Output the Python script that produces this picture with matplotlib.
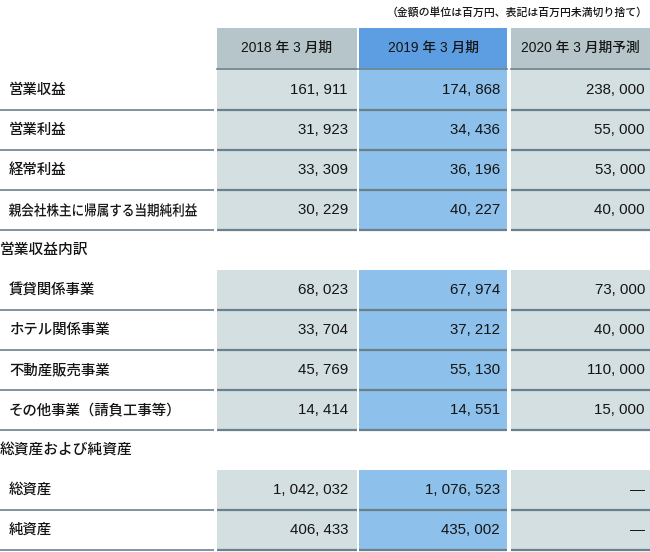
import matplotlib
matplotlib.use("Agg")
import matplotlib.pyplot as plt
from matplotlib.patches import Rectangle, PathPatch
from matplotlib.textpath import TextPath
from matplotlib.font_manager import FontProperties
from matplotlib.transforms import Affine2D

# ---------------- data ----------------
note = "（金額の単位は百万円、表記は百万円未満切り捨て）"
periods = ["2018 年 3 月期", "2019 年 3 月期", "2020 年 3 月期予測"]

main_labels = ["営業収益", "営業利益", "経常利益", "親会社株主に帰属する当期純利益"]
main_2018 = [161911, 31923, 33309, 30229]
main_2019 = [174868, 34436, 36196, 40227]
main_2020 = [238000, 55000, 53000, 40000]

seg_title = "営業収益内訳"
seg_labels = ["賃貸関係事業", "ホテル関係事業", "不動産販売事業", "その他事業（請負工事等）"]
seg_2018 = [68023, 33704, 45769, 14414]
seg_2019 = [67974, 37212, 55130, 14551]
seg_2020 = [73000, 40000, 110000, 15000]

asset_title = "総資産および純資産"
asset_labels = ["総資産", "純資産"]
asset_2018 = [1042032, 406433]
asset_2019 = [1076523, 435002]
asset_2020 = [None, None]

# ---------------- style / layout ----------------
W, H = 650, 552
CJK = ["Noto Sans CJK JP", "DejaVu Sans"]
NUM = ["Liberation Sans", "Noto Sans CJK JP", "DejaVu Sans"]
TXT = "#141414"
grey_head, blue_head = "#b6c5c9", "#5d9de2"
grey_body, blue_body = "#d4dfe1", "#8dc0ea"
line_c = "#6a808d"

col_x = [(217, 357), (359, 507), (511, 650)]
label_x1 = 214
head_col = [grey_head, blue_head, grey_head]
body_col = [grey_body, blue_body, grey_body]
row_h = 40

fig = plt.figure(figsize=(W / 100, H / 100), dpi=100)
ax = fig.add_axes([0, 0, 1, 1])
ax.set_xlim(0, W)
ax.set_ylim(H, 0)
ax.axis("off")


def fmt(v):
    if v is None:
        return "—"
    return f"{v:,}".replace(",", ", ")


# note
ax.text(648, 12, note, ha="right", va="center", fontsize=7.8,
        family=CJK, color=TXT, fontweight="medium")

# header
for (x0, x1), c, p in zip(col_x, head_col, periods):
    ax.add_patch(Rectangle((x0, 28), x1 - x0, 40, color=c, lw=0))
    ax.text((x0 + x1) / 2, 48, p, ha="center", va="center",
            fontsize=9.9, family=NUM, color=TXT, fontweight="medium")
    ax.plot([x0, x1], [68.5, 68.5], color=line_c, lw=1.2)


def long_label(x, yc, s, fs_px, target_w):
    tp = TextPath((0, 0), s, size=fs_px,
                  prop=FontProperties(family="Noto Sans CJK JP", weight="medium"))
    ext = tp.get_extents()
    sx = target_w / ext.width
    tr = Affine2D().translate(-ext.x0, -(ext.y0 + ext.y1) / 2).scale(sx, -1).translate(x, yc)
    ax.add_patch(PathPatch(tr.transform_path(tp), color=TXT, lw=0))


def block(top, labels, v18, v19, v20, body_top=None):
    bt = top if body_top is None else body_top
    bottom = top + row_h * len(labels)
    for (x0, x1), c in zip(col_x, body_col):
        ax.add_patch(Rectangle((x0, bt), x1 - x0, bottom - bt, color=c, lw=0))
    for i, lab in enumerate(labels):
        yc = top + row_h * i + row_h / 2
        yl = top + row_h * (i + 1)
        if len(lab) > 12:
            long_label(9, yc, lab, 14.5, 188)
        else:
            ax.text(9, yc, lab, ha="left", va="center", fontsize=10.4,
                    family=CJK, color=TXT, fontweight="medium")
        for (x0, x1), vals, pad in zip(col_x, (v18, v19, v20), (9, 7, 5)):
            ax.text(x1 - pad, yc, fmt(vals[i]), ha="right", va="center",
                    fontsize=10.8, family=NUM, color=TXT)
        ax.plot([0, label_x1], [yl, yl], color=line_c, lw=1.2, solid_capstyle="butt")
        for x0, x1 in col_x:
            ax.plot([x0, x1], [yl, yl], color=line_c, lw=1.6, solid_capstyle="butt")


block(70, main_labels, main_2018, main_2019, main_2020, body_top=68)
ax.text(0, 250, seg_title, ha="left", va="center", fontsize=10.6, family=CJK,
        color=TXT, fontweight="medium")
block(270, seg_labels, seg_2018, seg_2019, seg_2020)
ax.text(0, 450, asset_title, ha="left", va="center", fontsize=10.6, family=CJK,
        color=TXT, fontweight="medium")
block(470, asset_labels, asset_2018, asset_2019, asset_2020)

fig.savefig("out.png", dpi=100, facecolor="white")
